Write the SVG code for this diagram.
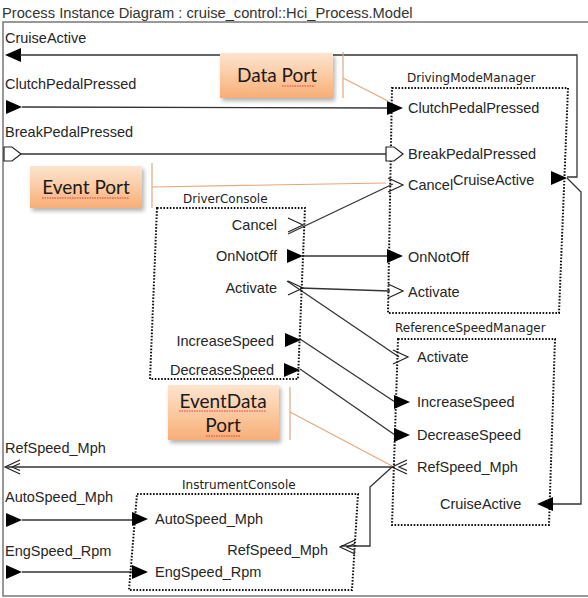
<svg xmlns="http://www.w3.org/2000/svg" xmlns:xlink="http://www.w3.org/1999/xlink" width="588" height="598" viewBox="0 0 588 598">
<defs>
  <linearGradient id="callGrad" x1="0" y1="0" x2="0" y2="1">
    <stop offset="0" stop-color="#fde4cf"/>
    <stop offset="0.5" stop-color="#fbcaa2"/>
    <stop offset="1" stop-color="#f7ae76"/>
  </linearGradient>
  <filter id="shadow" x="-10%" y="-10%" width="130%" height="140%">
    <feDropShadow dx="2" dy="3" stdDeviation="2" flood-color="#000" flood-opacity="0.3"/>
  </filter>
  <polygon id="triR" points="-16,-7 0,0 -16,7" fill="#000"/>
  <polygon id="triL" points="16,-7 0,0 16,7" fill="#000"/>
  <polyline id="chevR" points="-15,-7 0,0 -15,7" fill="none" stroke="#222" stroke-width="1.2"/>
  <polygon id="flagR" points="-17,-7 -9,-7 0,0 -9,7 -17,7" fill="#fff" stroke="#222" stroke-width="1.2"/>
  <g id="dchevL" fill="none" stroke="#222" stroke-width="1.2">
    <polyline points="15,-7 0,0 15,7"/>
    <polyline points="15,-3.5 7,0 15,3.5"/>
  </g>
</defs>
<style>
  .t { font-family: "Liberation Sans", Arial, sans-serif; font-size: 14.5px; fill: #262626; }
  .title { font-family: "Liberation Sans", Arial, sans-serif; font-size: 14.7px; fill: #333; }
  .lbl { font-family: "DejaVu Sans", Tahoma, sans-serif; font-size: 12px; fill: #222; }
  .box { fill: none; stroke: #111; stroke-width: 2; stroke-dasharray: 1.6 1.6; }
  .conn { fill: none; stroke: #333; stroke-width: 1.3; }
  .callbox { fill: url(#callGrad); filter: url(#shadow); }
  .calltext { font-family: Lato, "Open Sans", sans-serif; font-size: 19px; fill: #1a1a1a; text-anchor: middle; }
  .leader { fill: none; stroke: #e2a97f; stroke-width: 1.2; }
  .squig { fill: none; stroke: #e03a3a; stroke-width: 1; stroke-dasharray: 1.5 1; }
  .frame { fill: none; stroke: #777; stroke-width: 1.5; }
</style>

<rect x="0" y="0" width="588" height="598" fill="#fff"/>

<g id="frame">
  <text class="title" x="2" y="18">Process Instance Diagram : cruise_control::Hci_Process.Model</text>
  <path class="frame" d="M588,22 H3 V596 H588"/>
  <text class="t" x="5" y="43">CruiseActive</text>
  <use href="#triL" x="5" y="55"/>
  <text class="t" x="5" y="89">ClutchPedalPressed</text>
  <use href="#triR" x="22" y="107"/>
  <text class="t" x="5" y="137">BreakPedalPressed</text>
  <use href="#flagR" x="21" y="154"/>
  <text class="t" x="5" y="453">RefSpeed_Mph</text>
  <use href="#dchevL" x="5" y="467"/>
  <text class="t" x="5" y="502">AutoSpeed_Mph</text>
  <use href="#triR" x="22" y="520"/>
  <text class="t" x="5" y="556">EngSpeed_Rpm</text>
  <use href="#triR" x="22" y="572"/>
</g>

<g id="connectors">
  <polyline class="conn" points="567,177 577,177 577,55 20,55"/>
  <polyline class="conn" points="567,178 581,192 581,504 553,504"/>
  <line class="conn" x1="22" y1="107" x2="388" y2="108"/>
  <line class="conn" x1="21" y1="154" x2="386" y2="154"/>
  <line class="conn" x1="288" y1="234" x2="393" y2="184"/>
  <line class="conn" x1="303" y1="256" x2="388" y2="256"/>
  <line class="conn" x1="300" y1="288" x2="390" y2="291"/>
  <line class="conn" x1="287" y1="281" x2="399" y2="357"/>
  <line class="conn" x1="300" y1="339" x2="395" y2="402"/>
  <line class="conn" x1="300" y1="369" x2="395" y2="435"/>
  <line class="conn" x1="392" y1="467" x2="6" y2="467"/>
  <polyline class="conn" points="392,467 370,487 370,546 341,546"/>
  <line class="conn" x1="22" y1="520" x2="133" y2="520"/>
  <line class="conn" x1="22" y1="572" x2="133" y2="572"/>
</g>

<g id="DrivingModeManager">
  <text class="lbl" x="407" y="82">DrivingModeManager</text>
  <polygon class="box" points="392,88 568,88 559,313 388,313"/>
  <use href="#triR" x="403" y="108"/>
  <text class="t" x="408" y="113">ClutchPedalPressed</text>
  <use href="#flagR" x="403" y="154"/>
  <text class="t" x="408" y="159">BreakPedalPressed</text>
  <use href="#chevR" x="403" y="185"/>
  <text class="t" x="408" y="190">Cancel</text>
  <text class="t" x="453" y="185">CruiseActive</text>
  <use href="#triR" x="567" y="178"/>
  <use href="#triR" x="403" y="256"/>
  <text class="t" x="408" y="262">OnNotOff</text>
  <use href="#chevR" x="403" y="291"/>
  <text class="t" x="408" y="297">Activate</text>
</g>

<g id="DriverConsole">
  <text class="lbl" x="183" y="203">DriverConsole</text>
  <polygon class="box" points="157,208 305,208 298,379 150,379"/>
  <text class="t" x="277" y="230" text-anchor="end">Cancel</text>
  <use href="#chevR" x="303" y="225"/>
  <text class="t" x="277" y="261" text-anchor="end">OnNotOff</text>
  <use href="#triR" x="303" y="256"/>
  <text class="t" x="277" y="293" text-anchor="end">Activate</text>
  <use href="#chevR" x="303" y="288"/>
  <text class="t" x="274" y="346" text-anchor="end">IncreaseSpeed</text>
  <use href="#triR" x="301" y="340"/>
  <text class="t" x="274" y="375" text-anchor="end">DecreaseSpeed</text>
  <use href="#triR" x="300" y="370"/>
</g>

<g id="ReferenceSpeedManager">
  <text class="lbl" x="395" y="332">ReferenceSpeedManager</text>
  <polygon class="box" points="398,339 555,339 549,525 392,525"/>
  <use href="#chevR" x="408" y="357"/>
  <text class="t" x="417" y="362">Activate</text>
  <use href="#triR" x="410" y="402"/>
  <text class="t" x="417" y="407">IncreaseSpeed</text>
  <use href="#triR" x="410" y="435"/>
  <text class="t" x="417" y="440">DecreaseSpeed</text>
  <use href="#dchevL" x="392" y="467"/>
  <text class="t" x="417" y="472">RefSpeed_Mph</text>
  <text class="t" x="440" y="509">CruiseActive</text>
  <use href="#triL" x="537" y="504"/>
</g>

<g id="InstrumentConsole">
  <text class="lbl" x="182" y="489">InstrumentConsole</text>
  <polygon class="box" points="137,494 358,494 352,590 129,590"/>
  <use href="#triR" x="148" y="519"/>
  <text class="t" x="155" y="524">AutoSpeed_Mph</text>
  <text class="t" x="328" y="555" text-anchor="end">RefSpeed_Mph</text>
  <use href="#dchevL" x="340" y="547"/>
  <use href="#triR" x="148" y="572"/>
  <text class="t" x="155" y="577">EngSpeed_Rpm</text>
</g>

<g id="callout-data-port">
  <rect class="callbox" x="220" y="53" width="113" height="45"/>
  <text class="calltext" x="277" y="82">Data Port</text>
  <path class="squig" d="M282,86 H315"/>
  <path class="leader" d="M343,52 V98 M343,78 L388,101"/>
</g>

<g id="callout-event-port">
  <rect class="callbox" x="30" y="166" width="112" height="42"/>
  <text class="calltext" x="86" y="194">Event Port</text>
  <path class="squig" d="M42,198 H129"/>
  <path class="leader" d="M152,163 V208 M152,187 L386,183"/>
</g>

<g id="callout-eventdata-port">
  <rect class="callbox" x="168" y="385" width="111" height="55"/>
  <text class="calltext" x="223" y="408">EventData</text>
  <text class="calltext" x="223" y="432">Port</text>
  <path class="squig" d="M179,411 H266 M206,436 H240"/>
  <path class="leader" d="M290,387 V440 M290,412 L392,466"/>
</g>
</svg>
